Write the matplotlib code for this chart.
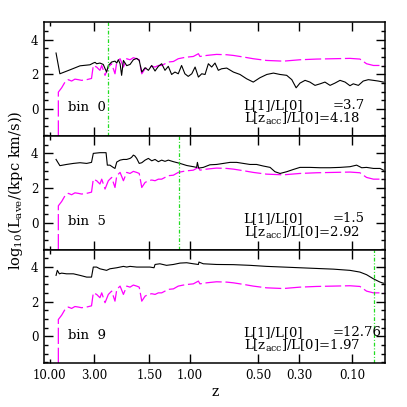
import matplotlib
matplotlib.use("Agg")
import matplotlib.pyplot as plt
import numpy as np

plt.rcParams['font.family'] = 'DejaVu Serif'
plt.rcParams['mathtext.fontset'] = 'dejavuserif'

# cosmic time (Gyr) of the snapshots
t_ref = [0.82, 0.82, 0.95, 1.08, 1.21, 1.34, 1.47, 1.60, 1.73, 1.93, 2.12, 2.19, 2.32, 2.45,
         2.52, 2.65, 2.78, 2.91, 3.04, 3.11, 3.24, 3.37, 3.50, 3.63, 3.76, 3.89, 3.99, 4.09,
         4.22, 4.35, 4.48, 4.61, 4.74, 4.87, 5.00, 5.13, 5.33, 5.52, 5.72, 5.91, 6.11, 6.31,
         6.37, 6.63, 7.02, 7.42, 7.68, 8.07, 8.46, 8.98, 9.64, 10.29, 10.94, 11.60, 12.25,
         12.64, 12.90, 13.17, 13.56]
L_ref = [-1.6, 0.97, 1.22, 1.55, 1.69, 1.61, 1.72, 1.69, 1.65, 1.69, 1.76, 2.51, 2.42, 2.23,
         2.51, 1.94, 2.42, 2.61, 2.03, 2.71, 2.90, 2.42, 2.90, 2.84, 2.96, 2.90, 2.84, 2.03,
         2.32, 2.42, 2.46, 2.42, 2.51, 2.51, 2.61, 2.71, 2.74, 2.90, 2.96, 3.00, 3.03, 3.19,
         3.03, 3.09, 3.15, 3.13, 3.09, 3.00, 2.90, 2.80, 2.76, 2.84, 2.88, 2.90, 2.92,
         2.88, 2.61, 2.51, 2.51]

t_bin0 = [0.73, 0.88, 1.28, 1.67, 2.06, 2.19, 2.26, 2.32, 2.45, 2.58, 2.71, 2.78, 2.91, 3.04,
          3.11, 3.17, 3.24, 3.30, 3.37, 3.50, 3.63, 3.76, 3.89, 3.99, 4.09, 4.22, 4.35, 4.48,
          4.61, 4.74, 4.87, 5.00, 5.13, 5.26, 5.39, 5.52, 5.65, 5.78, 5.91, 6.05, 6.18, 6.31,
          6.44, 6.57, 6.70, 6.83, 6.96, 7.09, 7.22, 7.42, 7.68, 7.94, 8.20, 8.46, 8.72, 8.99,
          9.25, 9.51, 9.77, 9.97, 10.14, 10.29, 10.49, 10.68, 10.88, 11.08, 11.27, 11.47,
          11.66, 11.86, 12.06, 12.25, 12.38, 12.58, 12.77, 12.97, 13.17, 13.36, 13.56]
L_bin0 = [3.23, 2.03, 2.26, 2.49, 2.55, 2.65, 2.69, 2.61, 2.65, 2.57, 2.13, 2.51, 2.71, 2.76,
          2.65, 2.84, 2.61, 1.94, 2.80, 2.50, 2.57, 2.84, 2.92, 2.80, 2.13, 2.38, 2.23, 2.51,
          2.19, 2.46, 2.61, 2.23, 2.46, 1.99, 2.13, 2.03, 2.51, 2.03, 1.88, 2.03, 2.42, 1.84,
          2.03, 1.99, 2.61, 2.42, 2.65, 2.23, 2.32, 2.36, 2.13, 1.99, 1.74, 1.55, 1.80, 1.99,
          2.07, 1.99, 1.94, 1.69, 1.22, 1.49, 1.65, 1.55, 1.36, 1.45, 1.55, 1.36,
          1.49, 1.65, 1.55, 1.34, 1.45, 1.36, 1.61, 1.69, 1.65, 1.61, 1.55]

t_bin5 = [0.73, 0.88, 1.14, 1.41, 1.67, 1.93, 2.12, 2.19, 2.45, 2.69, 2.74, 2.84, 2.97, 3.04,
          3.11, 3.24, 3.37, 3.50, 3.63, 3.69, 3.76, 3.82, 3.89, 3.99, 4.09, 4.22, 4.35, 4.48,
          4.61, 4.74, 4.87, 5.00, 5.13, 5.33, 5.59, 5.85, 6.11, 6.24, 6.27, 6.32, 6.50, 6.76,
          7.02, 7.29, 7.55, 7.81, 8.07, 8.33, 8.59, 8.85, 9.12, 9.31, 9.51, 9.77, 10.03, 10.29,
          10.68, 11.08, 11.47, 11.86, 12.25, 12.51, 12.71, 12.90, 13.17, 13.43, 13.56]
L_bin5 = [3.65, 3.29, 3.36, 3.42, 3.46, 3.42, 3.48, 4.00, 4.04, 4.04, 3.32, 3.32, 3.19, 3.13,
          3.50, 3.61, 3.65, 3.65, 3.71, 3.77, 3.90, 3.85, 3.71, 3.42, 3.46, 3.61, 3.71, 3.57,
          3.65, 3.52, 3.61, 3.54, 3.61, 3.52, 3.42, 3.30, 3.23, 3.19, 3.48, 3.15, 3.19, 3.34,
          3.36, 3.42, 3.48, 3.48, 3.42, 3.36, 3.36, 3.27, 3.19, 2.94, 2.84, 2.94, 3.07, 3.19,
          3.19, 3.17, 3.17, 3.19, 3.23, 3.32, 3.17, 3.19, 3.13, 3.13, 3.03]

t_bin9 = [0.73, 0.78, 0.86, 0.95, 1.14, 1.41, 1.67, 1.93, 2.12, 2.19, 2.32, 2.45, 2.71, 2.84,
          3.11, 3.37, 3.50, 3.63, 3.89, 4.41, 4.57, 4.61, 4.80, 5.06, 5.33, 5.59, 5.85, 6.11,
          6.31, 6.33, 6.50, 7.02, 7.68, 8.33, 8.98, 9.64, 10.29, 10.94, 11.60, 12.25, 12.64,
          12.90, 13.17, 13.43, 13.56]
L_bin9 = [3.52, 3.81, 3.61, 3.65, 3.61, 3.61, 3.52, 3.42, 3.42, 4.00, 4.00, 3.90, 3.81, 3.90,
          3.96, 4.04, 4.00, 4.04, 4.00, 4.00, 3.96, 4.15, 4.19, 4.10, 4.15, 4.23, 4.25, 4.19,
          4.15, 4.29, 4.19, 4.15, 4.14, 4.10, 4.04, 4.00, 3.96, 3.92, 3.88, 3.81, 3.71,
          3.56, 3.32, 3.13, 3.07]

bins = ['bin  0', 'bin  5', 'bin  9']
t_acc = [2.75, 5.56, 13.19]
ratio1 = ['3.7', '1.5', '12.76']
ratio_acc = ['4.18', '2.92', '1.97']

z_ticks = [3.0, 1.5, 1.0, 0.5, 0.3, 0.1]
z_labels = ['3.00', '1.50', '1.00', '0.50', '0.30', '0.10']


def cosmic_time(z):
    # flat LCDM, h=0.73, Om=0.25
    return 10.311 * np.arcsinh(np.sqrt(3.0) * (1.0 + np.asarray(z)) ** -1.5)


curves = [(t_bin0, L_bin0), (t_bin5, L_bin5), (t_bin9, L_bin9)]

fig = plt.figure(figsize=(4.07, 4.07), dpi=100)
gs = fig.add_gridspec(3, 1, left=0.108, right=0.947, bottom=0.107, top=0.945, hspace=0)

for i in range(3):
    ax = fig.add_subplot(gs[i])
    tb, Lb = curves[i]
    ax.plot(t_ref, L_ref, color='#ff00ff', lw=0.9, dashes=(13, 3))
    ax.plot(tb, Lb, color='k', lw=0.8)
    ax.axvline(t_acc[i], color='#22dd22', lw=0.9, dashes=(3, 1.5, 0.8, 1.5))

    ax.set_xlim(0.256, 13.64)
    ax.set_ylim(-1.57, 5.0)
    ax.set_yticks([0, 2, 4])
    ax.set_yticks(np.arange(-1.5, 5.0, 0.5), minor=True)
    ax.set_xticks(cosmic_time(z_ticks))
    ax.set_xticks([cosmic_time(10.0)], minor=True)
    if i == 2:
        ax.set_xticklabels(z_labels)
        ax.set_xticklabels(['10.00'], minor=True)
        ax.set_xlabel('z', fontsize=10, labelpad=2)
    else:
        ax.set_xticklabels([])
    ax.tick_params(which='both', direction='in', top=True, right=True, labelsize=8.5, width=1.0)
    ax.tick_params(which='major', length=6.5, pad=4)
    ax.tick_params(which='minor', length=3.2, pad=4)
    for s in ax.spines.values():
        s.set_linewidth(1.1)

    ax.text(0.07, 0.25, bins[i], transform=ax.transAxes, fontsize=9.5, va='center')
    ax.text(0.585, 0.272, 'L[1]/L[0]', transform=ax.transAxes, fontsize=9.5, va='center')
    ax.text(0.845, 0.272, '=' + ratio1[i], transform=ax.transAxes, fontsize=9.5, va='center')
    ax.text(0.585, 0.15, r'L[z$_{\rm acc}$]/L[0]=' + ratio_acc[i], transform=ax.transAxes,
            fontsize=9.5, va='center')

fig.text(0.038, 0.532, r'log$_{10}$(L$_{\rm ave}$/(kpc km/s))', rotation=90,
         ha='center', va='center', fontsize=10.5)

plt.savefig('out.png', dpi=100)
